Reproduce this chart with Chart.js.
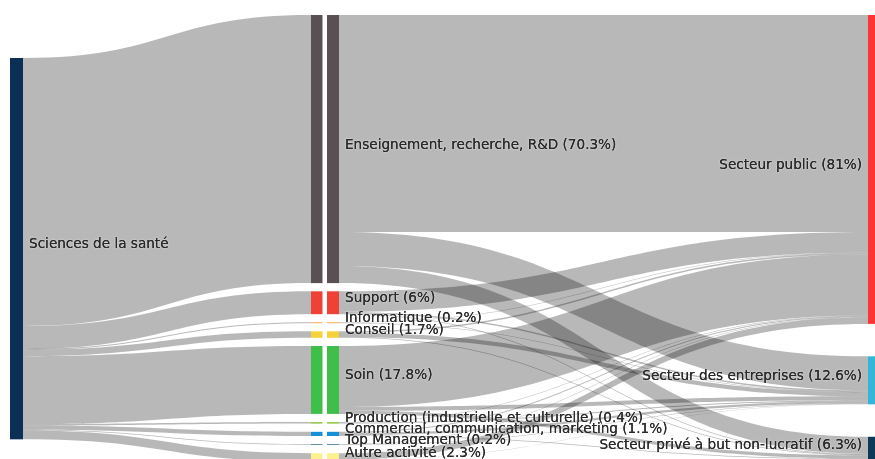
<!DOCTYPE html>
<html>
<head>
<meta charset="utf-8">
<script src="https://cdn.jsdelivr.net/npm/chart.js@4.4.1/dist/chart.umd.min.js"></script>
<style>
  html, body { margin: 0; padding: 0; background: #fff; overflow: hidden; }
  #wrap { position: relative; width: 875px; height: 470px; }
</style>
</head>
<body>
<div id="wrap"><canvas id="sankey"></canvas></div>
<script>
// ── DATA ─────────────────────────────
const sourceName = "Sciences de la santé";

const activities = [
  "Enseignement, recherche, R&D",
  "Support",
  "Informatique",
  "Conseil",
  "Soin",
  "Production (industrielle et culturelle)",
  "Commercial, communication, marketing",
  "Top Management",
  "Autre activité"
];
const activityPct = [70.3, 6, 0.2, 1.7, 17.8, 0.4, 1.1, 0.2, 2.3];

const sectors = [
  "Secteur public",
  "Secteur des entreprises",
  "Secteur privé à but non-lucratif"
];
const sectorPct = [81, 12.6, 6.3];

// flows activity -> sector (% of graduates), same order as activities
const toPublic      = [56.9, 5.4, 0.1, 0.4, 16.0, 0.1, 0.3, 0.1, 1.7];
const toEntreprises = [8.9, 0.4, 0.1, 1.1, 1.0, 0.3, 0.6, 0.1, 0.1];
const toPrive       = [4.5, 0.2, 0.0, 0.2, 0.8, 0.0, 0.2, 0.0, 0.5];

// ── STYLE / LAYOUT ─────────────────────────
const sourceColor = "#0b2f55";
const activityColors = ["#5a5054", "#ef4136", "#f7941d", "#f6d23a", "#3fbf4a",
                        "#8dc63f", "#1592d5", "#3b6f8e", "#fdf08f"];
const sectorColors = ["#ff3333", "#33b6d9", "#0a3a55"];
const linkColor = "rgba(0,0,0,0.28)";
const textColor = "#2a2a2a";
const font = "13.6px 'DejaVu Sans', sans-serif";

const Y_MAX = 118;          // vertical extent in % units
const leftTop = 11.27;      // left column offset
const midGap = 2.15;        // padding between middle nodes
const rightGap = 8.5;       // padding between right nodes
const col = {
  left: { x: 10, w: 13 },
  mid1: { x: 311, w: 11.5 },
  mid2: { x: 327, w: 12 },
  right: { x: 868, w: 13 }
};

// ── HELPERS ─────────────────────────────
function stack(values, start, gap) {
  let y = start;
  return values.map(v => {
    const n = { y0: y, y1: y + v };
    y += v + gap;
    return n;
  });
}

function linkPath(ctx, x0, x1, a0, a1, b0, b1) {
  // a: source top/bottom px, b: target top/bottom px
  const xm = (x0 + x1) / 2;
  ctx.beginPath();
  ctx.moveTo(x0, a0);
  ctx.bezierCurveTo(xm, a0, xm, b0, x1, b0);
  ctx.lineTo(x1, b1);
  ctx.bezierCurveTo(xm, b1, xm, a1, x0, a1);
  ctx.closePath();
  ctx.fill();
}

function haloText(ctx, txt, x, y) {
  ctx.save();
  ctx.fillStyle = textColor;
  ctx.shadowColor = "rgba(255,255,255,0.8)";
  ctx.shadowBlur = 2;
  ctx.fillText(txt, x, y);
  ctx.shadowColor = "transparent";
  ctx.fillText(txt, x, y);
  ctx.restore();
}

const sankeyPlugin = {
  id: "sankey",
  afterDatasetsDraw(chart) {
    const ctx = chart.ctx;
    const xs = chart.scales.x, ys = chart.scales.y;
    const px = v => xs.getPixelForValue(v);
    const py = v => ys.getPixelForValue(v);

    const flows = [toPublic, toEntreprises, toPrive];
    const sectorSums = flows.map(f => f.reduce((a, b) => a + b, 0));

    const srcNode = { y0: leftTop, y1: leftTop + activityPct.reduce((a, b) => a + b, 0) };
    const midNodes = stack(activityPct, 0, midGap);
    const rightNodes = stack(sectorSums, 0, rightGap);

    ctx.save();
    ctx.fillStyle = linkColor;

    // source -> activities
    let s = srcNode.y0;
    const lx0 = px(col.left.x + col.left.w), lx1 = px(col.mid1.x);
    activityPct.forEach((v, i) => {
      linkPath(ctx, lx0, lx1, py(s), py(s + v), py(midNodes[i].y0), py(midNodes[i].y1));
      s += v;
    });

    // activities -> sectors (outgoing ordered by sector, incoming by activity)
    const rx0 = px(col.mid2.x + col.mid2.w), rx1 = px(col.right.x);
    const outPos = midNodes.map(n => n.y0);
    const inPos = rightNodes.map(n => n.y0);
    activities.forEach((a, i) => {
      flows.forEach((f, j) => {
        const v = f[i];
        if (v > 0) {
          linkPath(ctx, rx0, rx1, py(outPos[i]), py(outPos[i] + v), py(inPos[j]), py(inPos[j] + v));
        }
        outPos[i] += v;
        inPos[j] += v;
      });
    });
    ctx.restore();

    // nodes
    ctx.save();
    const bar = (c, n, color) => {
      ctx.fillStyle = color;
      const t = py(n.y0), b = py(n.y1);
      ctx.fillRect(px(c.x), t, px(c.x + c.w) - px(c.x), Math.max(b - t, 0.8));
    };
    bar(col.left, srcNode, sourceColor);
    midNodes.forEach((n, i) => {
      bar(col.mid1, n, activityColors[i]);
      bar(col.mid2, n, activityColors[i]);
    });
    rightNodes.forEach((n, j) => bar(col.right, n, sectorColors[j]));
    ctx.restore();

    // labels
    ctx.save();
    ctx.font = font;
    ctx.textBaseline = "middle";
    ctx.textAlign = "left";
    const mid = n => (py(n.y0) + py(n.y1)) / 2 - 4;
    haloText(ctx, sourceName, px(col.left.x + col.left.w) + 6, mid(srcNode));
    midNodes.forEach((n, i) => {
      haloText(ctx, activities[i] + " (" + activityPct[i] + "%)", px(col.mid2.x + col.mid2.w) + 6, mid(n));
    });
    ctx.textAlign = "right";
    rightNodes.forEach((n, j) => {
      haloText(ctx, sectors[j] + " (" + sectorPct[j] + "%)", px(col.right.x) - 6, mid(n));
    });
    ctx.restore();
  }
};

new Chart(document.getElementById("sankey").getContext("2d"), {
  type: "scatter",
  data: { datasets: [{ data: [] }] },
  options: {
    responsive: true,
    maintainAspectRatio: false,
    animation: false,
    events: [],
    layout: { padding: { top: 15, bottom: 5, left: 0, right: 0 } },
    plugins: { legend: { display: false }, tooltip: { enabled: false } },
    scales: {
      x: { type: "linear", display: false, min: 0, max: 875 },
      y: { type: "linear", display: false, min: 0, max: Y_MAX, reverse: true }
    }
  },
  plugins: [sankeyPlugin]
});
</script>
</body>
</html>
